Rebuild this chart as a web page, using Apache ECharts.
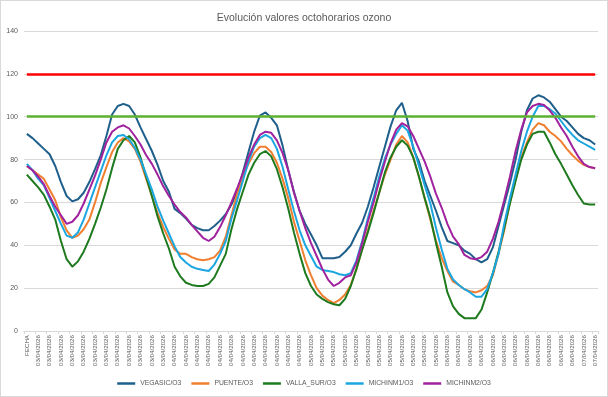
<!DOCTYPE html>
<html>
<head>
<meta charset="utf-8">
<script src="https://cdn.jsdelivr.net/npm/echarts@6/dist/echarts.min.js"></script>
<style>
  html, body { margin: 0; padding: 0; background: #fff; }
  #chart { width: 606px; height: 395px; border: 1px solid #D9D9D9; }
</style>
</head>
<body>
<div id="chart"></div>
<script>
const categories = [
  'FECHA',
  '03/04/2026','03/04/2026','03/04/2026','03/04/2026','03/04/2026','03/04/2026','03/04/2026','03/04/2026',
  '03/04/2026','03/04/2026','03/04/2026','03/04/2026','03/04/2026','03/04/2026','03/04/2026','03/04/2026',
  '03/04/2026','03/04/2026','03/04/2026','03/04/2026','03/04/2026','03/04/2026','03/04/2026','03/04/2026',
  '04/04/2026','04/04/2026','04/04/2026','04/04/2026','04/04/2026','04/04/2026','04/04/2026','04/04/2026',
  '04/04/2026','04/04/2026','04/04/2026','04/04/2026','04/04/2026','04/04/2026','04/04/2026','04/04/2026',
  '04/04/2026','04/04/2026','04/04/2026','04/04/2026','04/04/2026','04/04/2026','04/04/2026','04/04/2026',
  '05/04/2026','05/04/2026','05/04/2026','05/04/2026','05/04/2026','05/04/2026','05/04/2026','05/04/2026',
  '05/04/2026','05/04/2026','05/04/2026','05/04/2026','05/04/2026','05/04/2026','05/04/2026','05/04/2026',
  '05/04/2026','05/04/2026','05/04/2026','05/04/2026','05/04/2026','05/04/2026','05/04/2026','05/04/2026',
  '06/04/2026','06/04/2026','06/04/2026','06/04/2026','06/04/2026','06/04/2026','06/04/2026','06/04/2026',
  '06/04/2026','06/04/2026','06/04/2026','06/04/2026','06/04/2026','06/04/2026','06/04/2026','06/04/2026',
  '06/04/2026','06/04/2026','06/04/2026','06/04/2026','06/04/2026','06/04/2026','06/04/2026','06/04/2026',
  '07/04/2026','07/04/2026','07/04/2026','07/04/2026'
];

const vegasic = [
  92, 90, 87.5, 85, 82.5, 77, 69.5, 63, 60.5, 61.5,
  64.5, 69.5, 75.5, 82, 91, 101, 105, 106, 105, 101,
  95, 89.5, 84, 77.5, 70, 65, 57, 55, 52.5, 49.5,
  48, 47, 47, 49, 51.5, 54.5, 59, 65, 74, 83.5,
  93, 100.5, 102, 99.5, 96, 86.5, 75, 65, 56, 50,
  45, 40, 34, 34, 34, 34.5, 37, 40, 45.5, 50.5,
  58, 67, 76.5, 86, 95.5, 103, 106.5, 98, 85, 79,
  70, 63, 56, 48.5, 42, 41, 40, 37.5, 36, 33.5,
  32, 33.5, 39, 49, 59, 69, 80, 93, 103, 108.5,
  110, 109, 107, 103.5, 100, 98, 95, 92, 90, 89,
  87
];

const puente = [
  77, 75, 73, 71, 66, 61, 53, 47, 43.5, 44.5,
  47.5, 52, 60, 69, 76.5, 83.5, 88, 90, 88.5, 85,
  79, 71, 63, 55, 48.5, 43, 38, 36, 36, 34.5,
  33.5, 33, 33.5, 34.5, 37.5, 44, 54, 64, 72, 78,
  83, 86, 86, 83.5, 78.5, 71, 62, 51, 42, 33,
  26, 20, 16.5, 14.5, 13, 14.5, 17, 21.5, 29, 38,
  47, 56, 64.5, 73, 80, 87, 91, 88, 81, 72,
  62, 52, 42, 34, 28, 23, 21.5, 19.5, 18.5, 18,
  19, 21, 26, 36, 47, 60, 71, 81, 88, 94,
  97, 96, 93, 91, 88.5, 85, 82, 79.5, 77.5, 76.5,
  76
];

const vallaSur = [
  73, 70, 67, 63.5, 58, 52, 42, 33.5, 30, 32.5,
  37, 43, 50, 57.5, 66, 76, 85, 89, 91, 88,
  81, 72, 63, 53.5, 45.5, 38.5, 30, 25.5, 22.5, 21.5,
  21, 21, 22, 25, 30.5, 36, 47.5, 57, 65, 73,
  78.5, 82.5, 84, 81.5, 75.5, 67, 57, 46, 36, 27,
  21, 17, 15, 13.5, 12.5, 12, 15, 21, 29, 38,
  46, 55, 64.5, 74, 81, 86, 89, 86.5, 81, 72,
  62, 53, 41, 30, 18, 11.5, 8, 6, 6, 6,
  10, 18, 27, 37, 48, 59.5, 70, 80, 87, 92,
  93, 93, 88, 82.5, 78, 73, 68, 63.5, 59.5, 59,
  59
];

const michinm1 = [
  78, 75, 71, 68, 62, 56, 50, 44.5, 43.5, 46,
  52, 59.5, 67, 74.5, 82, 88, 91, 91.5, 89.5, 85.5,
  80, 73, 66, 58, 51.5, 45.5, 39.5, 34.5, 32, 30,
  29, 28.5, 28, 31, 36, 42, 52.5, 61, 70, 79,
  86, 90, 91.5, 90, 85, 76.5, 66, 56, 47, 40,
  35, 30, 28.5, 28, 27.5, 26.5, 26, 27, 33, 42,
  52.5, 62, 72, 80.5, 87, 92, 96, 93.5, 86, 77,
  68, 59.5, 48, 38, 29, 24, 21.5, 19.5, 18, 16,
  16, 19.5, 27, 36, 50, 62, 73, 84, 93, 100,
  105, 105, 103.5, 101.5, 98, 94.5, 91.5, 89, 87.5, 86,
  84.5
];

const michinm2 = [
  77, 75, 72, 68.5, 63, 58, 54, 50, 51, 54,
  59.5, 66, 72.5, 80, 88, 93, 95, 96, 94.5, 91,
  87, 82, 78, 73, 67.5, 63, 59, 55.5, 53, 49.5,
  46.5, 43.5, 42, 44, 48.5, 54, 60, 66.5, 73.5, 81,
  87, 91.5, 93, 92.5, 89, 83, 75, 64.5, 56, 48,
  41, 35, 29, 24, 21, 22.5, 25, 26, 32, 41,
  51, 60, 70, 79, 87.5, 94, 97, 95.5, 91, 85,
  79, 72, 64, 57.5, 50, 44, 40.5, 35.5, 34, 33.5,
  34.5, 37, 43, 51, 61, 72, 84, 94, 102, 105,
  106, 105.5, 103, 99.5, 95, 91, 86, 81.5, 78, 76.5,
  76
];

const seriesNames = ['VEGASIC/O3', 'PUENTE/O3', 'VALLA_SUR/O3', 'MICHINM1/O3', 'MICHINM2/O3'];
const seriesColors = ['#1F5F8B', '#F07F30', '#1E7A1E', '#1BA6E0', '#A0229E'];
const seriesData = [vegasic, puente, vallaSur, michinm1, michinm2];

const limitRed = 120;
const limitGreen = 100;
const yTicks = { min: 0, max: 140, interval: 20 };

const FONT = 'Liberation Sans';
const lastIdx = categories.length - 1;

const series = seriesData.map((d, k) => ({
  name: seriesNames[k],
  type: 'line',
  data: d,
  symbol: 'none',
  smooth: false,
  lineStyle: { width: 2, color: seriesColors[k] },
  itemStyle: { color: seriesColors[k] },
  z: 3
}));

series.push({
  name: 'limits',
  type: 'line',
  data: [],
  symbol: 'none',
  z: 2,
  markLine: {
    silent: true,
    symbol: ['none', 'none'],
    label: { show: false },
    animation: false,
    data: [
      [{ coord: [0, limitRed], lineStyle: { color: '#FF0000', width: 2.5, type: 'solid' } },
       { coord: [lastIdx, limitRed] }],
      [{ coord: [0, limitGreen], lineStyle: { color: '#5DB130', width: 2.5, type: 'solid' } },
       { coord: [lastIdx, limitGreen] }]
    ]
  }
});

const chart = echarts.init(document.getElementById('chart'), null, { renderer: 'canvas' });
chart.setOption({
  animation: false,
  backgroundColor: '#fff',
  title: {
    text: 'Evolución valores octohorarios ozono',
    left: 'center',
    top: 7,
    textStyle: { fontFamily: FONT, fontSize: 10.5, fontWeight: 'normal', color: '#595959' }
  },
  legend: {
    data: seriesNames,
    bottom: 4,
    left: 'center',
    icon: 'rect',
    itemWidth: 18,
    itemHeight: 2.5,
    itemGap: 10,
    textStyle: { fontFamily: FONT, fontSize: 6.8, color: '#595959' }
  },
  grid: { left: 23, right: 9, top: 30, bottom: 65, containLabel: false },
  xAxis: {
    type: 'category',
    data: categories,
    boundaryGap: true,
    axisLine: { show: true, lineStyle: { color: '#D9D9D9', width: 1 } },
    axisTick: { show: true, interval: 1, length: 3, lineStyle: { color: '#D9D9D9' } },
    axisLabel: {
      interval: 1,
      rotate: 90,
      fontFamily: FONT,
      fontSize: 6.2,
      color: '#595959',
      margin: 4
    },
    splitLine: { show: false }
  },
  yAxis: {
    type: 'value',
    min: yTicks.min,
    max: yTicks.max,
    interval: yTicks.interval,
    axisLine: { show: false },
    axisTick: { show: false },
    axisLabel: { fontFamily: FONT, fontSize: 7, color: '#595959', margin: 6 },
    splitLine: { show: true, lineStyle: { color: '#D9D9D9', width: 1 } }
  },
  series: series
});
</script>
</body>
</html>
